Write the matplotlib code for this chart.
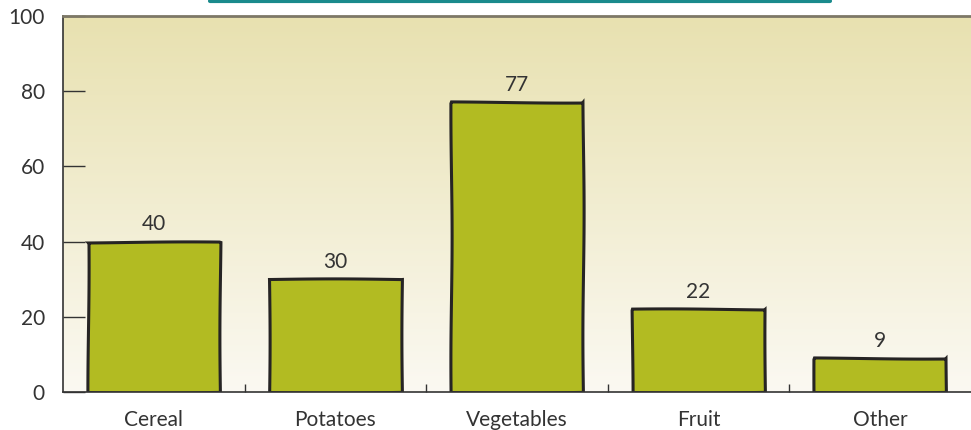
import matplotlib.pyplot as plt
import numpy as np
from matplotlib.lines import Line2D

# data
categories = ['Cereal', 'Potatoes', 'Vegetables', 'Fruit', 'Other']
values = [40, 30, 77, 22, 9]
yticks = [0, 20, 40, 60, 80, 100]

plt.rcParams['font.family'] = ['Lato', 'DejaVu Sans']

fig = plt.figure(figsize=(9.71, 4.30), dpi=100)
ax = fig.add_axes([63 / 971, 1 - 392 / 430, 1 - 63 / 971, (392 - 16) / 430])

x = np.arange(len(categories))
ax.set_xlim(-0.5, len(categories) - 0.5)
ax.set_ylim(0, 100)

# gradient background
grad = np.linspace(0, 1, 256).reshape(-1, 1)
top = np.array([232, 225, 176]) / 255
bot = np.array([251, 249, 242]) / 255
img = bot + (top - bot) * grad
ax.imshow(img[:, None, :].repeat(2, axis=1), extent=[-0.5, len(categories) - 0.5, 0, 100],
          origin='lower', aspect='auto', zorder=0)

bars = ax.bar(x, values, width=0.73, color='#b2bb22', edgecolor='#262424',
              linewidth=2.2, zorder=2)
for b in bars:
    b.set_sketch_params(scale=0.6, length=250, randomness=1)

for xi, v in zip(x, values):
    ax.text(xi, v + 1.9, str(v), ha='center', va='bottom', fontsize=15, color='#333333')

ax.set_yticks(yticks)
ax.set_yticklabels([str(t) for t in yticks], fontsize=15, color='#333333')
ax.tick_params(axis='y', direction='in', length=16, width=1, color='#333333', pad=13)

ax.set_xticks(x)
ax.set_xticklabels(categories, fontsize=15, color='#333333')
ax.tick_params(axis='x', which='major', length=0, pad=13)
ax.set_xticks(x[:-1] + 0.5, minor=True)
ax.tick_params(axis='x', which='minor', direction='in', length=6, width=1, color='#333333')

ax.spines['right'].set_visible(False)
ax.spines['left'].set_color('#333333')
ax.spines['bottom'].set_color('#333333')
ax.spines['left'].set_linewidth(1.2)
ax.spines['bottom'].set_linewidth(1.2)
ax.spines['top'].set_color('#7d7866')
ax.spines['top'].set_linewidth(2)

# teal brush stroke at the top
fig.add_artist(Line2D([210 / 971, 830 / 971], [1 - 1 / 430, 1 - 1 / 430],
                      transform=fig.transFigure, color='#1a8a8c', linewidth=3,
                      solid_capstyle='round'))

fig.savefig('out.png', dpi=100)
